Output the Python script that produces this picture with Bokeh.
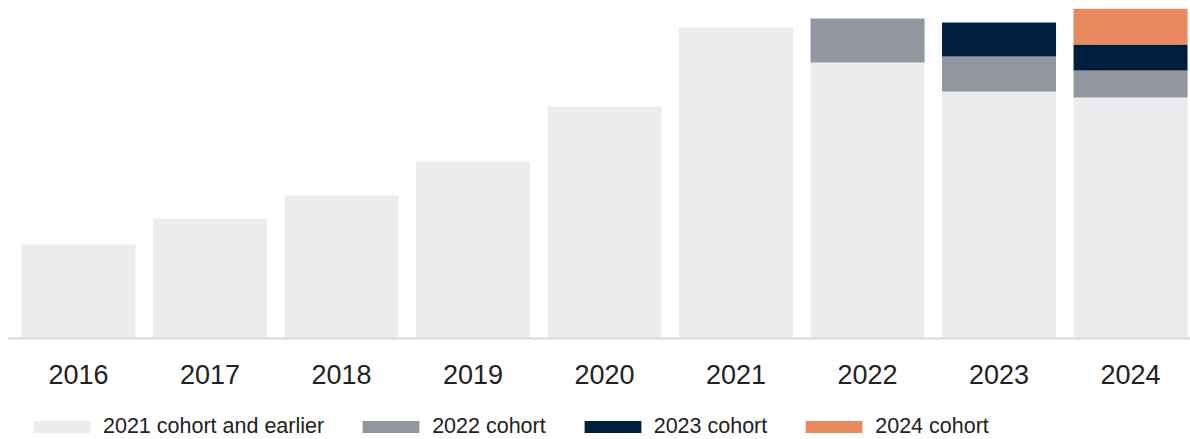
from bokeh.plotting import figure
from bokeh.models import ColumnDataSource, Range1d, FixedTicker, Legend, LegendItem
from bokeh.layouts import column
from bokeh.embed import file_html
from bokeh.resources import INLINE

years = ["2016", "2017", "2018", "2019", "2020", "2021", "2022", "2023", "2024"]
cohort_2021_earlier = [94, 120, 143, 177, 232, 311, 276, 247, 241]
cohort_2022 = [0, 0, 0, 0, 0, 0, 44, 35, 27]
cohort_2023 = [0, 0, 0, 0, 0, 0, 0, 34, 26]
cohort_2024 = [0, 0, 0, 0, 0, 0, 0, 0, 36]
series_labels = ["2021 cohort and earlier", "2022 cohort", "2023 cohort", "2024 cohort"]
colors = ["#ebecee", "#92979f", "#001f3d", "#e78a60"]
stack_keys = ["c2021", "c2022", "c2023", "c2024"]

xs = list(range(len(years)))
source = ColumnDataSource(dict(
    x=xs,
    c2021=cohort_2021_earlier,
    c2022=cohort_2022,
    c2023=cohort_2023,
    c2024=cohort_2024,
))

p = figure(width=1190, height=395, output_backend="svg", toolbar_location=None,
           x_range=Range1d(-0.54, 8.456), y_range=Range1d(0, 330),
           min_border_left=7, min_border_right=0, min_border_top=8, min_border_bottom=57)

p.vbar_stack(stack_keys, x="x", width=0.867, color=colors, line_width=0, source=source)

p.yaxis.visible = False
p.xgrid.visible = False
p.ygrid.visible = False
p.outline_line_color = None

ax = p.xaxis[0]
ax.ticker = FixedTicker(ticks=xs)
ax.major_label_overrides = {i: y for i, y in zip(xs, years)}
ax.axis_line_color = "#d6dade"
ax.axis_line_width = 2
ax.major_tick_line_color = None
ax.minor_tick_line_color = None
ax.major_tick_out = 0
ax.major_tick_in = 0
ax.major_label_standoff = 26
ax.major_label_text_font = "Liberation Sans"
ax.major_label_text_font_size = "27px"
ax.major_label_text_color = "#222222"

# legend strip below the chart (its bars are outside its visible range; only the legend shows)
lg = figure(width=1190, height=44, output_backend="svg", toolbar_location=None,
            x_range=Range1d(-101, -100), y_range=Range1d(1000, 1001),
            x_axis_location=None, y_axis_location=None,
            min_border_left=0, min_border_right=0, min_border_top=0, min_border_bottom=0)
lg.xgrid.visible = False
lg.ygrid.visible = False
lg.outline_line_color = None
legend_renderers = [lg.vbar(x="x", top=k, width=0.867, color=c, line_width=0, source=source)
                    for k, c in zip(stack_keys, colors)]

legend = Legend(items=[LegendItem(label=l, renderers=[r]) for l, r in zip(series_labels, legend_renderers)],
                orientation="horizontal", location=(19, 0))
legend.glyph_width = 71
legend.glyph_height = 15
legend.label_height = 20
legend.label_standoff = 6
legend.spacing = 31
legend.label_text_font = "Liberation Sans"
legend.label_text_font_size = "21.5px"
legend.label_text_color = "#222222"
legend.border_line_color = None
legend.background_fill_alpha = 0
legend.margin = 0
legend.padding = 0
lg.add_layout(legend, "center")

layout = column(p, lg, spacing=0)
open("out.html", "w").write(file_html(layout, INLINE))
